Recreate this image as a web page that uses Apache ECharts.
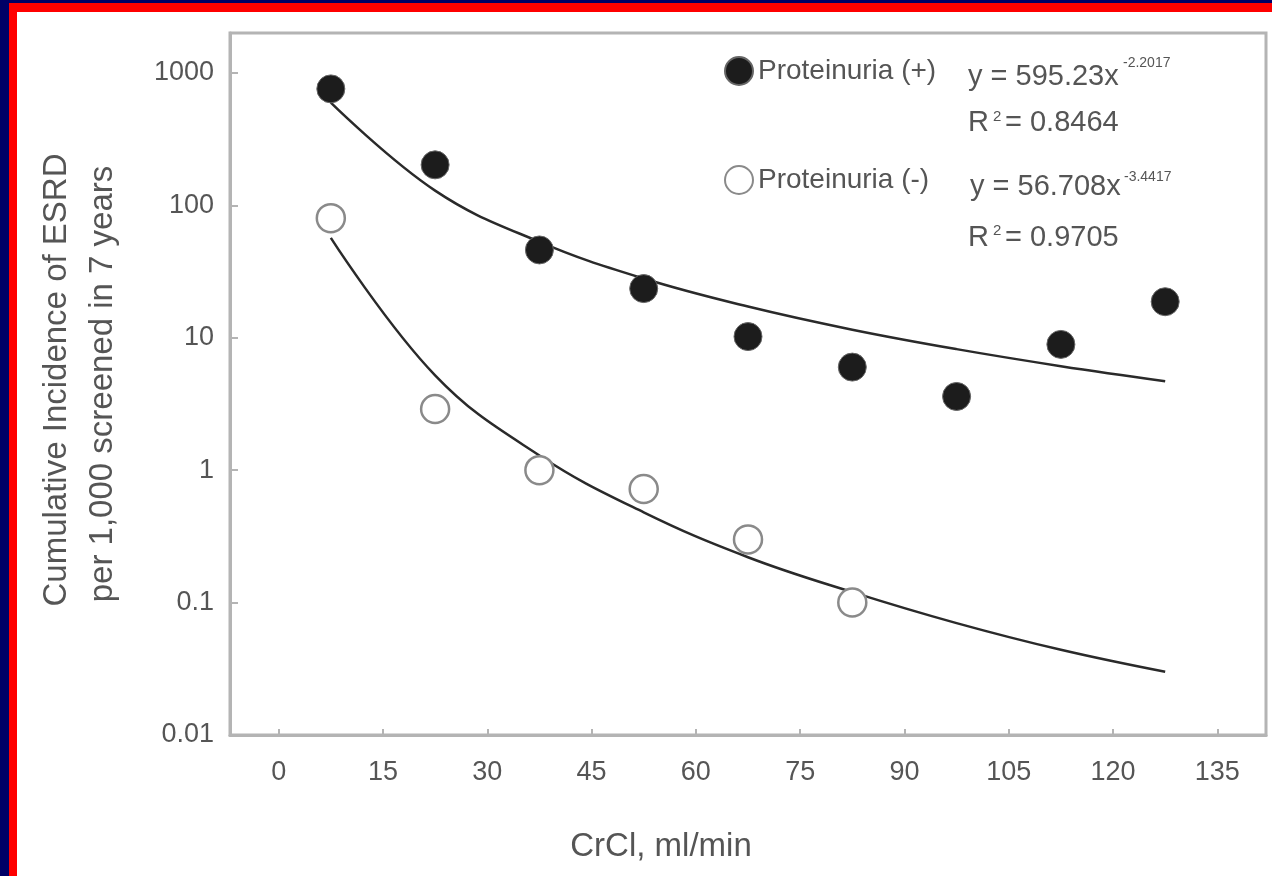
<!DOCTYPE html>
<html>
<head>
<meta charset="utf-8">
<script src="https://cdn.jsdelivr.net/npm/echarts@6/dist/echarts.min.js"></script>
<style>
  html, body { margin: 0; padding: 0; background: #fff; }
  #chart { position: absolute; left: 0; top: 0; width: 1272px; height: 876px; }
  .bar { position: absolute; }
</style>
</head>
<body>
<div id="chart"></div>
<div class="bar" style="left:0;top:0;width:1272px;height:3px;background:#000066"></div>
<div class="bar" style="left:0;top:0;width:9px;height:876px;background:#000066"></div>
<div class="bar" style="left:9px;top:3px;width:1263px;height:9px;background:#ff0000"></div>
<div class="bar" style="left:9px;top:3px;width:8px;height:873px;background:#ff0000"></div>
<script>
// CrCl bin midpoints (ml/min)
var crcl = [7.5, 22.5, 37.5, 52.5, 67.5, 82.5, 97.5, 112.5, 127.5];
// cumulative incidence per 1,000 screened
var protPos = [757, 202, 46, 23.5, 10.2, 6, 3.6, 8.9, 18.7];
var protNeg = [80, 2.9, 1.0, 0.72, 0.3, 0.1];
// fitted power curves
var fitPos = [595, 129, 53, 28, 17.2, 11.5, 8.2, 6.1, 4.7];
var fitNeg = [56.7, 5.2, 1.29, 0.48, 0.22, 0.12, 0.07, 0.044, 0.03];
// tick labels
var xTicks = [0, 15, 30, 45, 60, 75, 90, 105, 120, 135];
var yTicks = [0.01, 0.1, 1, 10, 100, 1000];

function pairs(xs, ys) {
    var out = [];
    for (var i = 0; i < ys.length; i++) out.push([xs[i], ys[i]]);
    return out;
}

var font = 'Liberation Sans, Arial, sans-serif';
var grey = '#555';
var axisGrey = '#b4b4b4';

function txt(x, y, s, size) {
    return {
        type: 'text', x: x, y: y,
        style: { text: s, fill: grey, font: size + 'px ' + font, textVerticalAlign: 'middle' }
    };
}

var option = {
    animation: false,
    backgroundColor: '#fff',
    grid: {
        left: 230, top: 33, right: 6, bottom: 141,
        show: true, borderColor: axisGrey, borderWidth: 3
    },
    xAxis: {
        type: 'value', min: -7, max: 142,
        splitLine: { show: false },
        axisLine: { lineStyle: { color: axisGrey, width: 3 } },
        axisTick: { inside: true, length: 6, customValues: xTicks, lineStyle: { color: axisGrey, width: 2 } },
        axisLabel: { customValues: xTicks, color: grey, fontSize: 27, fontFamily: font, margin: 24 }
    },
    yAxis: {
        type: 'log', logBase: 10, min: 0.01, max: 2000,
        splitLine: { show: false },
        axisLine: { show: true, onZero: false, lineStyle: { color: axisGrey, width: 3 } },
        axisTick: { show: true, inside: true, length: 8, customValues: yTicks, lineStyle: { color: axisGrey, width: 2 } },
        axisLabel: {
            customValues: yTicks, color: grey, fontSize: 27, fontFamily: font, margin: 16,
            formatter: function (v) { return String(v); }
        }
    },
    legend: {
        orient: 'vertical', left: 719, top: 51,
        itemWidth: 28, itemHeight: 28, itemGap: 79,
        data: [
            { name: 'Proteinuria (+)', icon: 'circle' },
            { name: 'Proteinuria (-)', icon: 'circle' }
        ],
        textStyle: { color: grey, fontSize: 28, fontFamily: font }
    },
    graphic: [
        {
            type: 'text', x: 57, y: 380, rotation: Math.PI / 2,
            style: { text: 'Cumulative Incidence of ESRD', fill: grey, font: '33px ' + font, textAlign: 'center', textVerticalAlign: 'middle' }
        },
        {
            type: 'text', x: 103, y: 384, rotation: Math.PI / 2,
            style: { text: 'per 1,000 screened in 7 years', fill: grey, font: '33px ' + font, textAlign: 'center', textVerticalAlign: 'middle' }
        },
        {
            type: 'text', x: 661, y: 847,
            style: { text: 'CrCl, ml/min', fill: grey, font: '33px ' + font, textAlign: 'center', textVerticalAlign: 'middle' }
        },
        txt(968, 77, 'y = 595.23x', 29),
        txt(1123, 63, '-2.2017', 14),
        txt(968, 123, 'R', 29),
        txt(993, 117, '2', 15),
        txt(1005, 123, '= 0.8464', 29),
        txt(970, 187, 'y = 56.708x', 29),
        txt(1124, 177, '-3.4417', 14),
        txt(968, 238, 'R', 29),
        txt(993, 231, '2', 15),
        txt(1005, 238, '= 0.9705', 29)
    ],
    series: [
        {
            name: 'fit +', type: 'line', smooth: 0.4, showSymbol: false, z: 2,
            lineStyle: { color: '#2a2a2a', width: 2.5 },
            data: pairs(crcl, fitPos)
        },
        {
            name: 'fit -', type: 'line', smooth: 0.4, showSymbol: false, z: 2,
            lineStyle: { color: '#2a2a2a', width: 2.5 },
            data: pairs(crcl, fitNeg)
        },
        {
            name: 'Proteinuria (+)', type: 'scatter', symbol: 'circle', symbolSize: 28, z: 5,
            itemStyle: { color: '#1c1c1c', borderColor: '#666', borderWidth: 1, opacity: 1 },
            data: pairs(crcl, protPos)
        },
        {
            name: 'Proteinuria (-)', type: 'scatter', symbol: 'circle', symbolSize: 28, z: 5,
            itemStyle: { color: '#fff', borderColor: '#8a8a8a', borderWidth: 2.5, opacity: 1 },
            data: pairs(crcl, protNeg)
        }
    ]
};

var myChart = echarts.init(document.getElementById('chart'));
myChart.setOption(option);
</script>
</body>
</html>
